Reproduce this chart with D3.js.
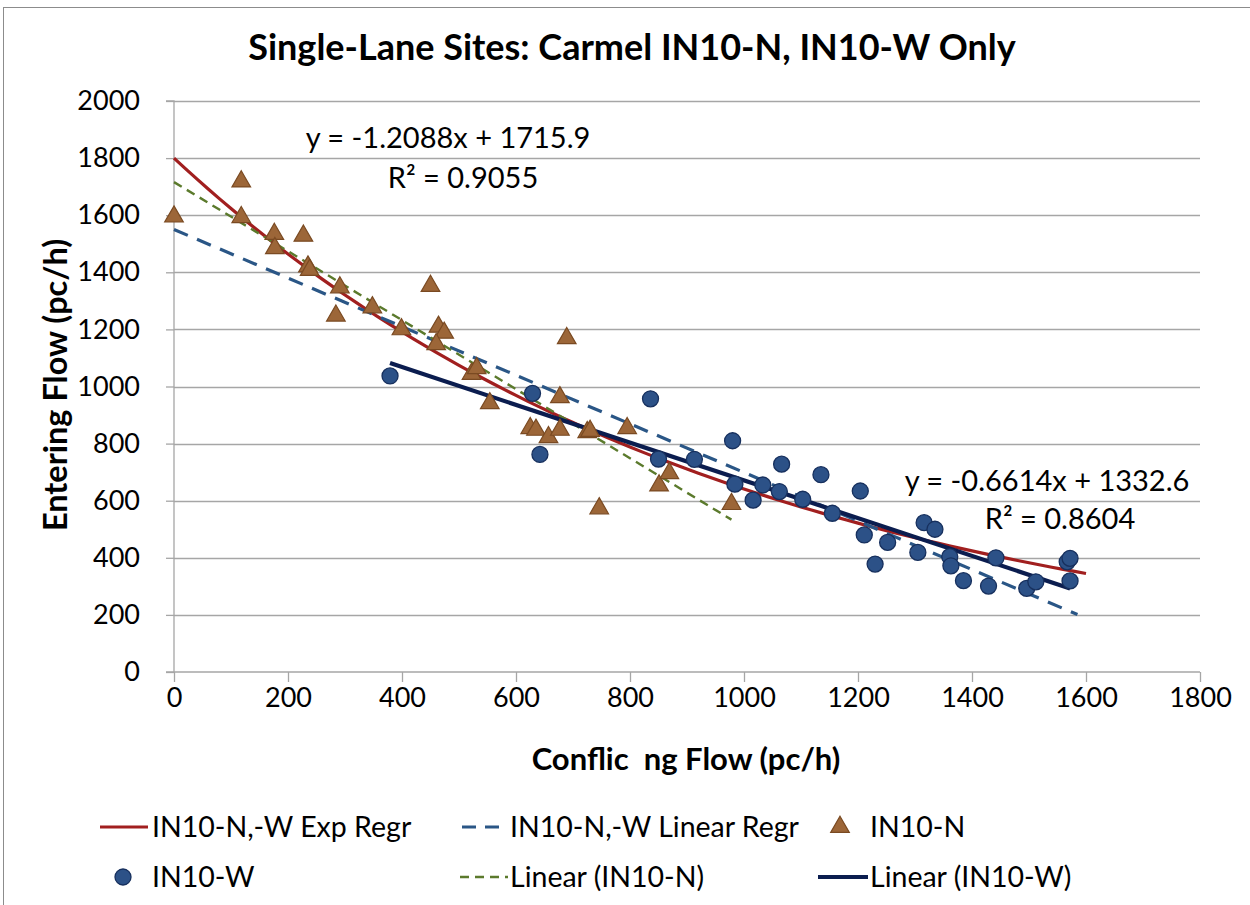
<!DOCTYPE html>
<html><head><meta charset="utf-8">
<script src="https://cdn.jsdelivr.net/npm/d3@7"></script>
<style>body{margin:0;background:#fff}svg{display:block}text{font-family:Lato,"Open Sans",sans-serif}</style>
</head><body><svg id="c" width="1250" height="905"></svg>
<script>
const title = "Single-Lane Sites: Carmel IN10-N, IN10-W Only";
const xTitle = "Conflic  ng Flow (pc/h)";
const yTitle = "Entering Flow (pc/h)";
const xTicks = [0,200,400,600,800,1000,1200,1400,1600,1800];
const yTicks = [0,200,400,600,800,1000,1200,1400,1600,1800,2000];

const nX = [0,118,118,176,177,227,235,238,291,284,348,450,399,464,474,460,522,531,554,689,625,635,657,677,677,725,730,795,746,851,869,978];
const nY = [1595,1718,1593,1534,1484,1528,1420,1408,1347,1248,1277,1352,1200,1209,1188,1148,1044,1064,941,1169,854,848,822,962,848,840,844,854,573,653,696,588];

const wX = [379,629,642,836,850,913,980,984,1016,1033,1066,1062,1103,1135,1155,1204,1211,1230,1252,1305,1316,1335,1361,1363,1385,1429,1442,1496,1512,1567,1572,1572];
const wY = [1037,976,762,957,746,745,810,658,602,655,728,632,605,691,556,634,480,378,454,419,523,500,404,372,320,301,400,293,316,386,398,319];

const linN = [-1.2088, 1715.9];  const linNRange = [0, 978];
const linW = [-0.6614, 1332.6];  const linWRange = [379, 1572];
const linAll = [-0.851, 1550];   const linAllRange = [0, 1585];
const expAll = [1800, -0.0010325]; const expRange = [0, 1600];

const eqN = ["y = -1.2088x + 1715.9", "R² = 0.9055"];
const eqW = ["y = -0.6614x + 1332.6", "R² = 0.8604"];
const legendLabels = ["IN10-N,-W Exp Regr","IN10-N,-W Linear Regr","IN10-N","IN10-W","Linear (IN10-N)","Linear (IN10-W)"];

const C = {red:"#a11f1f", blueDash:"#2a5686", green:"#5b7a2c", navy:"#0b1d4f",
  triFill:"#9c6638", triStroke:"#7a4a22", cirFill:"#2c5187", cirStroke:"#17305e", grid:"#a6a6a6"};

const svg = d3.select("#c");
svg.append("rect").attr("x",3.5).attr("y",7.5).attr("width",1260).attr("height",910)
  .attr("fill","#fff").attr("stroke","#8c8c8c").attr("stroke-width",1);

const x = d3.scaleLinear().domain([0,1800]).range([174,1200]);
const y = d3.scaleLinear().domain([0,2000]).range([672,101]);

// grid
svg.append("g").selectAll("line").data(yTicks.filter(d=>d>0)).join("line")
  .attr("x1",x(0)).attr("x2",x(1800)).attr("y1",d=>Math.round(y(d))+0.5).attr("y2",d=>Math.round(y(d))+0.5)
  .attr("stroke",C.grid).attr("stroke-width",1.3);

// axes
const gy = svg.append("g").attr("transform",`translate(${x(0)},0)`)
  .call(d3.axisLeft(y).tickValues(yTicks).tickSize(8).tickPadding(26).tickFormat(d3.format("d")));
const gx = svg.append("g").attr("transform",`translate(0,${y(0)})`)
  .call(d3.axisBottom(x).tickValues(xTicks).tickSize(10).tickPadding(6).tickFormat(d3.format("d")));
[gx,gy].forEach(g=>{
  g.select(".domain").attr("stroke",C.grid).attr("stroke-width",1.3);
  g.selectAll(".tick line").attr("stroke",C.grid).attr("stroke-width",1.3);
  g.selectAll(".tick text").attr("fill","#000").style("font-size","27px").style("font-family","Lato");
});
gy.select(".domain").attr("d",`M-8,${y(2000)}H0V${y(0)}`);
gx.select(".domain").attr("d",`M${x(0)-8},0H${x(1800)}`);
gx.selectAll(".tick text").attr("dy","0.71em");

// lines
const line = d3.line().x(d=>x(d[0])).y(d=>y(d[1]));
const linePts = (c,r)=>[[r[0], c[0]*r[0]+c[1]],[r[1], c[0]*r[1]+c[1]]];
svg.append("path").attr("d", line(d3.range(expRange[0], expRange[1]+1, 20).map(v=>[v, expAll[0]*Math.exp(expAll[1]*v)])))
  .attr("fill","none").attr("stroke",C.red).attr("stroke-width",3.2);
svg.append("path").attr("d", line(linePts(linAll,linAllRange)))
  .attr("fill","none").attr("stroke",C.blueDash).attr("stroke-width",3.2).attr("stroke-dasharray","15,10");
svg.append("path").attr("d", line(linePts(linN,linNRange)))
  .attr("fill","none").attr("stroke",C.green).attr("stroke-width",2.4).attr("stroke-dasharray","9,6");
svg.append("path").attr("d", line(linePts(linW,linWRange)))
  .attr("fill","none").attr("stroke",C.navy).attr("stroke-width",4.2);

// markers
const tri = d3.symbol().type(d3.symbolTriangle).size(150);
svg.append("g").selectAll("path").data(nX.map((v,i)=>[v,nY[i]])).join("path")
  .attr("d",tri).attr("transform",d=>`translate(${x(d[0])},${y(d[1])})`)
  .attr("fill",C.triFill).attr("stroke",C.triStroke).attr("stroke-width",1.2);
svg.append("g").selectAll("circle").data(wX.map((v,i)=>[v,wY[i]])).join("circle")
  .attr("cx",d=>x(d[0])).attr("cy",d=>y(d[1])).attr("r",8)
  .attr("fill",C.cirFill).attr("stroke",C.cirStroke).attr("stroke-width",1.3);

// texts
svg.append("text").attr("x",632).attr("y",60).attr("text-anchor","middle")
  .style("font-size","36px").style("font-weight","bold").text(title);
svg.append("text").attr("x",686).attr("y",770).attr("text-anchor","middle").attr("xml:space","preserve")
  .style("white-space","pre").style("font-size","31px").style("font-weight","bold").text(xTitle);
svg.append("text").attr("transform","translate(67,385) rotate(-90)").attr("text-anchor","middle")
  .style("font-size","32.5px").style("font-weight","bold").text(yTitle);

svg.append("text").attr("x",448).attr("y",148).attr("text-anchor","middle").style("font-size","29px").text(eqN[0]);
svg.append("text").attr("x",463).attr("y",188).attr("text-anchor","middle").style("font-size","29px").text(eqN[1]);
svg.append("text").attr("x",1047).attr("y",491).attr("text-anchor","middle").style("font-size","29px").text(eqW[0]);
svg.append("text").attr("x",1060).attr("y",529).attr("text-anchor","middle").style("font-size","29px").text(eqW[1]);

// legend
const lg = svg.append("g").style("font-size","28.5px");
const row1 = 827, row2 = 877;
lg.append("line").attr("x1",100).attr("x2",148).attr("y1",row1).attr("y2",row1).attr("stroke",C.red).attr("stroke-width",3.2);
lg.append("text").attr("x",152).attr("y",row1+10).text(legendLabels[0]);
lg.append("line").attr("x1",462).attr("x2",500).attr("y1",row1).attr("y2",row1).attr("stroke",C.blueDash).attr("stroke-width",3.2).attr("stroke-dasharray","14,9");
lg.append("text").attr("x",510).attr("y",row1+10).text(legendLabels[1]);
lg.append("path").attr("d",tri).attr("transform",`translate(840,${row1})`).attr("fill",C.triFill).attr("stroke",C.triStroke).attr("stroke-width",1.2);
lg.append("text").attr("x",870).attr("y",row1+10).text(legendLabels[2]);
lg.append("circle").attr("cx",123).attr("cy",row2).attr("r",8).attr("fill",C.cirFill).attr("stroke",C.cirStroke).attr("stroke-width",1.3);
lg.append("text").attr("x",152).attr("y",row2+10).text(legendLabels[3]);
lg.append("line").attr("x1",460).attr("x2",508).attr("y1",row2).attr("y2",row2).attr("stroke",C.green).attr("stroke-width",2.4).attr("stroke-dasharray","9,6");
lg.append("text").attr("x",510).attr("y",row2+10).text(legendLabels[4]);
lg.append("line").attr("x1",818).attr("x2",868).attr("y1",row2).attr("y2",row2).attr("stroke",C.navy).attr("stroke-width",4.2);
lg.append("text").attr("x",870).attr("y",row2+10).text(legendLabels[5]);
</script></body></html>
